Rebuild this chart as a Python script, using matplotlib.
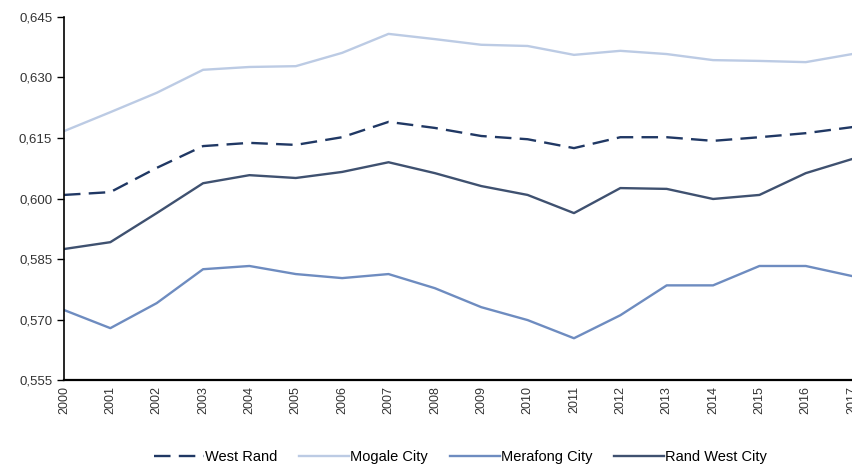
import numpy as np
import matplotlib.pyplot as plt
from matplotlib.ticker import FuncFormatter

plt.rcParams['font.family'] = ['Liberation Sans', 'DejaVu Sans']

years = list(range(2000, 2018))

west_rand = [0.6009, 0.6016, 0.6076, 0.6130, 0.6138, 0.6133, 0.6152, 0.6190, 0.6175,
             0.6155, 0.6147, 0.6125, 0.6152, 0.6152, 0.6143, 0.6152, 0.6162, 0.6177]
mogale_city = [0.6167, 0.6214, 0.6262, 0.6319, 0.6326, 0.6328, 0.6361, 0.6408, 0.6395,
               0.6381, 0.6378, 0.6356, 0.6366, 0.6358, 0.6343, 0.6341, 0.6338, 0.6358]
merafong_city = [0.5724, 0.5679, 0.5741, 0.5825, 0.5833, 0.5813, 0.5803, 0.5813, 0.5778,
                 0.5731, 0.5699, 0.5654, 0.5711, 0.5785, 0.5785, 0.5833, 0.5833, 0.5808]
rand_west_city = [0.5875, 0.5892, 0.5964, 0.6038, 0.6058, 0.6051, 0.6066, 0.6090, 0.6063,
                  0.6031, 0.6009, 0.5964, 0.6026, 0.6024, 0.5999, 0.6009, 0.6063, 0.6098]

yticks = [0.555, 0.570, 0.585, 0.600, 0.615, 0.630, 0.645]

fig = plt.figure(figsize=(8.53, 4.70), dpi=100)
ax = fig.add_axes([0.075, 0.191, 0.924, 0.773])

ax.plot(years, west_rand, color='#203864', lw=1.7, dashes=(7, 3.5), label='West Rand')
ax.plot(years, mogale_city, color='#bccbe4', lw=1.7, label='Mogale City')
ax.plot(years, merafong_city, color='#6e8cc0', lw=1.7, label='Merafong City')
ax.plot(years, rand_west_city, color='#3f5170', lw=1.7, label='Rand West City')

ax.set_xlim(2000, 2017)
ax.set_ylim(0.555, 0.645)
ax.set_xticks(years)
ax.set_xticklabels([str(y) for y in years], rotation=90, fontsize=9, color='#333333')
ax.set_yticks(yticks)
ax.yaxis.set_major_formatter(FuncFormatter(lambda v, p: f'{v:.3f}'.replace('.', ',')))
ax.tick_params(axis='y', labelsize=9.5, colors='#333333', length=5, width=1)
ax.tick_params(axis='y', color='black')
ax.tick_params(axis='x', length=0, pad=4)

for s in ['top', 'right']:
    ax.spines[s].set_visible(False)
ax.spines['left'].set_linewidth(1.2)
ax.spines['bottom'].set_linewidth(1.6)

fig.legend(loc='lower center', bbox_to_anchor=(0.54, -0.015), ncol=4, frameon=False,
           fontsize=10.5, handlelength=3.4, handletextpad=0.1, columnspacing=1.5)

fig.savefig('out.png', dpi=100)
